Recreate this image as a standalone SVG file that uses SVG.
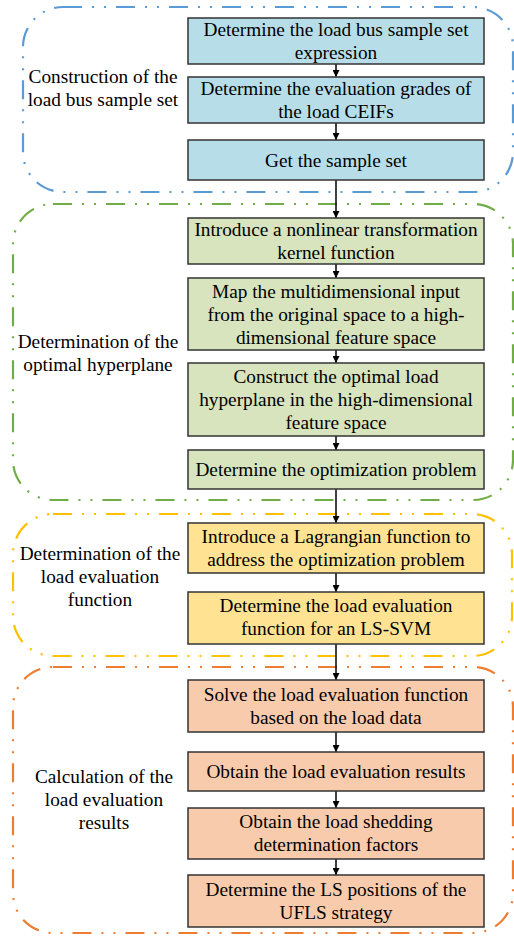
<svg xmlns="http://www.w3.org/2000/svg" width="514" height="936" viewBox="0 0 514 936" font-family="'Liberation Serif', Tinos, 'Times New Roman', 'DejaVu Serif', serif">
<defs>
<marker id="arr" viewBox="0 0 10 10" refX="10" refY="5" markerWidth="7" markerHeight="7" markerUnits="userSpaceOnUse" orient="auto">
<path d="M0,0 L10,5 L0,10 Z" fill="#000"/>
</marker>
</defs>
<style>
.grp{fill:none;stroke-width:2.2;stroke-dasharray:19 10 2 10 2 10}
.box{stroke:#333;stroke-width:1.5}
.b{fill:#b7dee8}.g{fill:#d7e4bd}.y{fill:#ffe393}.o{fill:#f8cbad}
text{font-size:19.3px;fill:#000;text-anchor:middle}
.con line{stroke:#000;stroke-width:1.5;marker-end:url(#arr)}
</style>
<g id="group-blue">
<rect class="grp" x="23" y="7" width="490" height="185" rx="40" stroke="#5b9bd5"/>
<text x="103" y="83">Construction of the</text>
<text x="103" y="106">load bus sample set</text>
</g>
<g id="group-green">
<rect class="grp" x="13" y="204" width="500" height="296" rx="40" stroke="#70ad47"/>
<text x="98" y="348">Determination of the</text>
<text x="98" y="371">optimal hyperplane</text>
</g>
<g id="group-yellow">
<rect class="grp" x="13" y="514" width="499" height="142" rx="40" stroke="#ffc000"/>
<text x="100" y="560">Determination of the</text>
<text x="100" y="583">load evaluation</text>
<text x="100" y="606">function</text>
</g>
<g id="group-orange">
<rect class="grp" x="13" y="667" width="500" height="266" rx="40" stroke="#ed7d31"/>
<text x="104" y="783">Calculation of the</text>
<text x="104" y="806">load evaluation</text>
<text x="104" y="829">results</text>
</g>
<g class="con" id="connectors">
<line x1="336" y1="64" x2="336" y2="77"/>
<line x1="336" y1="123" x2="336" y2="140"/>
<line x1="336" y1="180" x2="336" y2="218"/>
<line x1="336" y1="264" x2="336" y2="278"/>
<line x1="336" y1="350" x2="336" y2="363"/>
<line x1="336" y1="436" x2="336" y2="450"/>
<line x1="336" y1="489" x2="336" y2="523"/>
<line x1="336" y1="573" x2="336" y2="592"/>
<line x1="336" y1="644" x2="336" y2="680"/>
<line x1="336" y1="732" x2="336" y2="752"/>
<line x1="336" y1="791" x2="336" y2="808"/>
<line x1="336" y1="859" x2="336" y2="875"/>
</g>
<g id="n1"><rect class="box b" x="188" y="18" width="296" height="46"/><text x="336" y="36">Determine the load bus sample set</text><text x="336" y="59">expression</text></g>
<g id="n2"><rect class="box b" x="188" y="77" width="296" height="46"/><text x="336" y="95">Determine the evaluation grades of</text><text x="336" y="118">the load CEIFs</text></g>
<g id="n3"><rect class="box b" x="188" y="140" width="296" height="40"/><text x="336" y="166.5">Get the sample set</text></g>
<g id="n4"><rect class="box g" x="188" y="218" width="296" height="46"/><text x="336" y="236">Introduce a nonlinear transformation</text><text x="336" y="259">kernel function</text></g>
<g id="n5"><rect class="box g" x="188" y="278" width="296" height="72"/><text x="336" y="297.5">Map the multidimensional input</text><text x="336" y="320.5">from the original space to a high-</text><text x="336" y="343.5">dimensional feature space</text></g>
<g id="n6"><rect class="box g" x="188" y="363" width="296" height="73"/><text x="336" y="383">Construct the optimal load</text><text x="336" y="406">hyperplane in the high-dimensional</text><text x="336" y="429">feature space</text></g>
<g id="n7"><rect class="box g" x="188" y="450" width="296" height="39"/><text x="336" y="476">Determine the optimization problem</text></g>
<g id="n8"><rect class="box y" x="188" y="523" width="296" height="50"/><text x="336" y="543">Introduce a Lagrangian function to</text><text x="336" y="566">address the optimization problem</text></g>
<g id="n9"><rect class="box y" x="188" y="592" width="296" height="52"/><text x="336" y="612">Determine the load evaluation</text><text x="336" y="635">function for an LS-SVM</text></g>
<g id="n10"><rect class="box o" x="188" y="680" width="296" height="52"/><text x="336" y="701">Solve the load evaluation function</text><text x="336" y="724">based on the load data</text></g>
<g id="n11"><rect class="box o" x="188" y="752" width="296" height="39"/><text x="336" y="777.5">Obtain the load evaluation results</text></g>
<g id="n12"><rect class="box o" x="188" y="808" width="296" height="51"/><text x="336" y="827.5">Obtain the load shedding</text><text x="336" y="850.5">determination factors</text></g>
<g id="n13"><rect class="box o" x="188" y="875" width="296" height="52"/><text x="336" y="895.5">Determine the LS positions of the</text><text x="336" y="918.5">UFLS strategy</text></g>
</svg>
